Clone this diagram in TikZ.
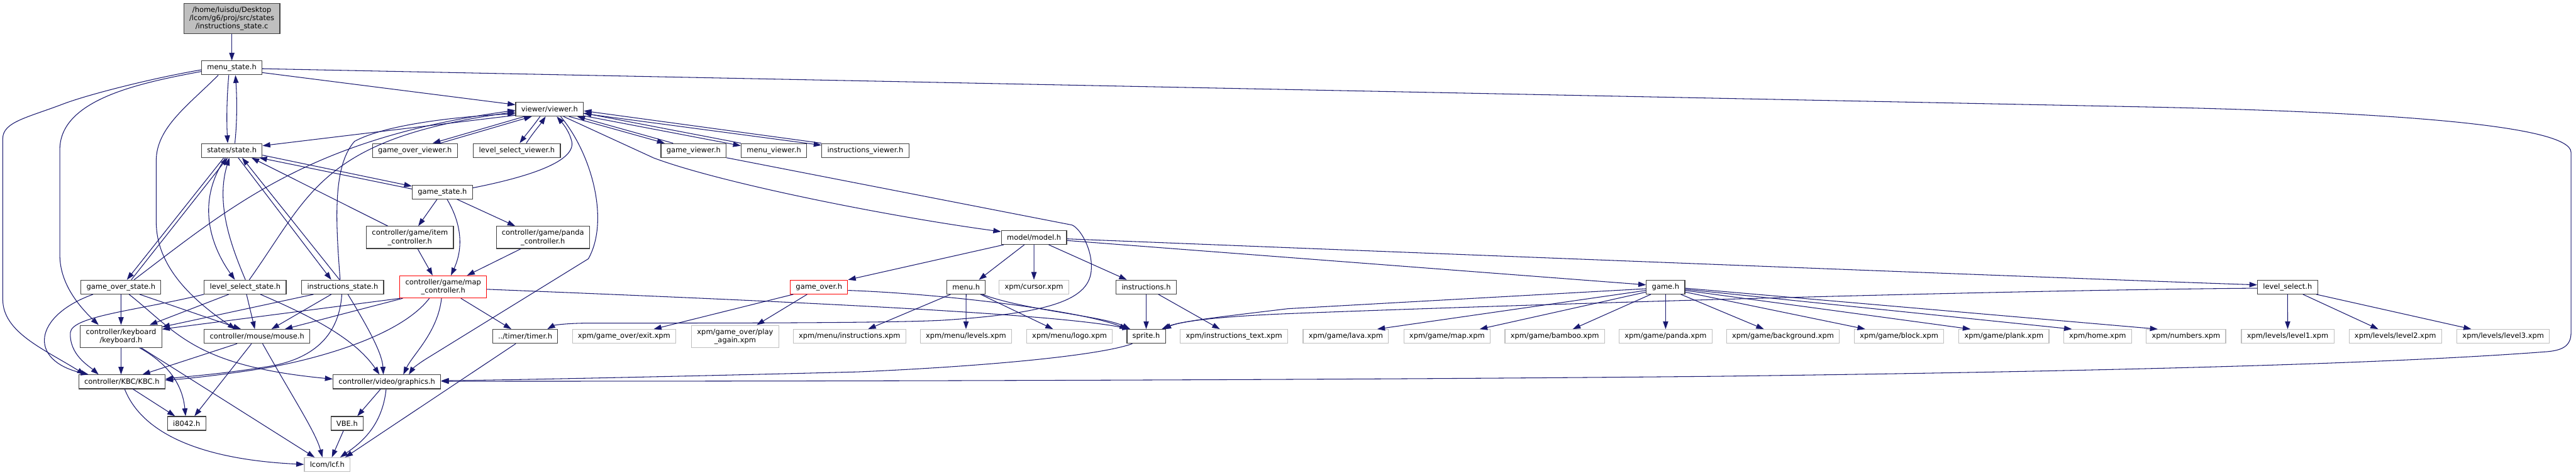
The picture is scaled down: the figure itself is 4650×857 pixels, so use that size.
\documentclass[tikz,border=0pt]{standalone}
\usepackage{fontspec}
\setmainfont{DejaVu Sans}
\usetikzlibrary{arrows.meta}
\definecolor{edgec}{HTML}{191970}
\definecolor{boxc}{HTML}{404040}
\definecolor{grayc}{HTML}{BFBFBF}
\definecolor{redc}{HTML}{FF0000}
\definecolor{rootc}{HTML}{BFBFBF}
\tikzset{
  box/.style={draw=boxc, line width=1.3pt, fill=white, inner xsep=10pt, inner ysep=2pt,
    minimum height=25pt, align=center, font=\fontsize{13}{15}\selectfont, text=black},
  gbox/.style={box, draw=grayc},
  rbox/.style={box, draw=redc},
  two/.style={minimum height=40pt},
  e/.style={draw=edgec, line width=1.2pt, -{Triangle[length=14pt,width=9.5pt]}}
}
\begin{document}
\begin{tikzpicture}[x=1pt,y=-1pt]
\fill[white] (0,0) rectangle (4650,857);
\useasboundingbox (0,0) rectangle (4650,857);
% ---------------- nodes ----------------
\node[box, fill=rootc, minimum height=55pt] (root) at (418.5,33.5) {/home/luisdu/Desktop\\/lcom/g6/proj/src/states\\/instructions\_state.c};
\node[box] (ms) at (418.5,122.5) {menu\_state.h};
\node[box] (st) at (418.5,271.5) {states/state.h};
\node[box] (vw) at (992,197) {viewer/viewer.h};
\node[box] (gov) at (749,271.5) {game\_over\_viewer.h};
\node[box] (lsv) at (933,271.5) {level\_select\_viewer.h};
\node[box] (gv) at (1252,271.5) {game\_viewer.h};
\node[box] (mv) at (1397,271.5) {menu\_viewer.h};
\node[box] (iv) at (1562,271.5) {instructions\_viewer.h};
\node[box] (gs) at (798.5,346.5) {game\_state.h};
\node[box, two] (ic) at (740,428.5) {controller/game/item\\\_controller.h};
\node[box, two] (pc) at (980,428.5) {controller/game/panda\\\_controller.h};
\node[rbox, two] (mc) at (800,517.7) {controller/game/map\\\_controller.h};
\node[box] (gos) at (218.4,518) {game\_over\_state.h};
\node[box] (lss) at (442.6,518) {level\_select\_state.h};
\node[box] (ins) at (618.6,518) {instructions\_state.h};
\node[box, two] (kb) at (218.5,607) {controller/keyboard\\/keyboard.h};
\node[box] (mo) at (464,607) {controller/mouse/mouse.h};
\node[box] (kbc) at (220,689) {controller/KBC/KBC.h};
\node[box] (gr) at (698.4,689) {controller/video/graphics.h};
\node[box] (i8) at (337,764) {i8042.h};
\node[box] (vbe) at (626.5,764) {VBE.h};
\node[gbox] (lcf) at (590.7,838.4) {lcom/lcf.h};
\node[box] (tm) at (948,607) {../timer/timer.h};
\node[gbox] (ex) at (1126.5,607) {xpm/game\_over/exit.xpm};
\node[gbox, two] (pa) at (1327,607) {xpm/game\_over/play\\\_again.xpm};
\node[rbox] (go) at (1478.4,518) {game\_over.h};
\node[gbox] (mi) at (1533.5,607) {xpm/menu/instructions.xpm};
\node[box] (md) at (1866.5,428.5) {model/model.h};
\node[box] (mn) at (1744,518) {menu.h};
\node[gbox] (cu) at (1866.4,518) {xpm/cursor.xpm};
\node[box] (ih) at (2069,518) {instructions.h};
\node[gbox] (lv) at (1743.7,607) {xpm/menu/levels.xpm};
\node[gbox] (lo) at (1930.6,607) {xpm/menu/logo.xpm};
\node[box] (sp) at (2069,607) {sprite.h};
\node[gbox] (it) at (2227.6,607) {xpm/instructions\_text.xpm};
\node[box] (gm) at (3006.6,518) {game.h};
\node[gbox] (la) at (2429.3,607) {xpm/game/lava.xpm};
\node[gbox] (mp) at (2612,607) {xpm/game/map.xpm};
\node[gbox] (ba) at (2806.5,607) {xpm/game/bamboo.xpm};
\node[gbox] (pn) at (3006.6,607) {xpm/game/panda.xpm};
\node[gbox] (bg) at (3218.4,607) {xpm/game/background.xpm};
\node[gbox] (bl) at (3428,607) {xpm/game/block.xpm};
\node[gbox] (pl) at (3617.3,607) {xpm/game/plank.xpm};
\node[gbox] (ho) at (3786.3,607) {xpm/home.xpm};
\node[gbox] (nu) at (3946,607) {xpm/numbers.xpm};
\node[box] (ls) at (4129.3,518) {level\_select.h};
\node[gbox] (l1) at (4129.5,607) {xpm/levels/level1.xpm};
\node[gbox] (l2) at (4323.8,607) {xpm/levels/level2.xpm};
\node[gbox] (l3) at (4518.5,607) {xpm/levels/level3.xpm};
% ---------------- edges ----------------
\draw[e] (root) -- (ms);
\draw[e] (ms.south -| 413,0) .. controls (409,180) and (409,220) .. (st.north -| 411,0);
\draw[e] (st.north -| 424,0) .. controls (428,220) and (428,180) .. (ms.south -| 425,0);
\draw[e] (ms.east |- 0,131) -- (vw.west |- 0,189);
\draw[e] (ms.east |- 0,124) -- (3875,193) .. controls (4300,202) and (4641,225) .. (4641,275) -- (4641,600)
   .. controls (4641,625) and (4625,633) .. (4592,635) .. controls (4300,657) and (3800,670) .. (3100,679)
   .. controls (2400,686) and (1500,688) .. (gr.east |- 0,688);
\draw[e] (ms.west |- 0,126) .. controls (280,140) and (160,170) .. (113,188) .. controls (50,212) and (5,220) .. (5,250)
   -- (5,540) .. controls (5,600) and (80,630) .. (kbc.north -| 153,0);
\draw[e] (ms.west |- 0,129) .. controls (250,150) and (108,180) .. (108,270) -- (108,460)
   .. controls (108,510) and (140,550) .. (kb.north -| 178,0);
\draw[e] (ms.south -| 394,0) .. controls (340,190) and (282,230) .. (282,290) -- (282,400)
   .. controls (282,470) and (330,530) .. (mo.north -| 425,0);
% state.h cycles
\draw[e] (st.south -| 404,0) -- (gos.north -| 229,0);
\draw[e] (gos.north -| 237,0) -- (st.south -| 411,0);
\draw[e] (st.south -| 407,0) .. controls (350,370) and (385,450) .. (lss.north -| 424,0);
\draw[e] (lss.north -| 443,0) .. controls (420,450) and (388,370) .. (st.south -| 414,0);
\draw[e] (st.south -| 430,0) -- (ins.north -| 598,0);
\draw[e] (ins.north -| 613,0) -- (st.south -| 437,0);
\draw[e] (st.east |- 0,280) -- (gs.west |- 0,336);
\draw[e] (gs.west |- 0,341) -- (st.south -| 468,0);
\draw[e] (gs.east |- 0,339) .. controls (960,318) and (1040,290) .. (1032,255) .. controls (1027,235) and (1015,222) .. (vw.south -| 1005,0);
\draw[e] (ic.north -| 700,0) -- (st.south -| 454,0);
\draw[e] (gs.south -| 789,0) -- (ic.north -| 755,0);
\draw[e] (gs.south -| 825,0) -- (pc.north -| 930,0);
\draw[e] (gs.south -| 807,0) .. controls (828,395) and (840,440) .. (mc.north -| 814,0);
\draw[e] (ic.south -| 754,0) -- (mc.north -| 781,0);
\draw[e] (pc.south -| 940,0) -- (mc.north -| 843,0);
% viewer cycles
\draw[e] (vw.south -| 947,0) -- (gov.north -| 781,0);
\draw[e] (gov.north -| 795,0) -- (vw.south -| 960,0);
\draw[e] (vw.south -| 975,0) .. controls (962,228) and (948,245) .. (lsv.north -| 938,0);
\draw[e] (lsv.north -| 950,0) .. controls (962,240) and (975,225) .. (vw.south -| 985,0);
\draw[e] (vw.south -| 1027,0) -- (gv.north -| 1200,0);
\draw[e] (gv.north -| 1215,0) -- (vw.south -| 1042,0);
\draw[e] (vw.east |- 0,209) -- (mv.west |- 0,263);
\draw[e] (mv.north west) -- (vw.east |- 0,204);
\draw[e] (vw.east |- 0,205) -- (iv.west |- 0,262);
\draw[e] (iv.north west) -- (vw.east |- 0,200);
\draw[e] (vw.west |- 0,208) -- (st.east |- 0,263);
\draw[e] (gos.north -| 242,0) .. controls (420,370) and (560,250) .. (vw.west |- 0,199);
\draw[e] (lss.north -| 450,0) .. controls (560,350) and (580,250) .. (vw.west |- 0,202);
\draw[e] (ins.north -| 614,0) .. controls (606,400) and (600,300) .. (640,255) .. controls (690,228) and (800,212) .. (vw.west |- 0,205);
% state headers to controllers
\draw[e] (gos.south) -- (kb.north);
\draw[e] (gos.south -| 168,0) .. controls (60,570) and (50,650) .. (kbc.north -| 160,0);
\draw[e] (gos.south -| 252,0) -- (mo.north -| 435,0);
\draw[e] (gos.south -| 233,0) .. controls (320,600) and (350,660) .. (gr.west |- 0,684);
\draw[e] (lss.south -| 413,0) -- (kb.north -| 270,0);
\draw[e] (lss.south west) .. controls (250,560) and (130,570) .. (127,600) .. controls (125,640) and (160,660) .. (kbc.north -| 178,0);
\draw[e] (lss.south -| 445,0) -- (mo.north -| 460,0);
\draw[e] (lss.south -| 470,0) .. controls (560,570) and (640,610) .. (gr.north -| 685,0);
\draw[e] (ins.south -| 566,0) -- (kb.east |- 0,590);
\draw[e] (ins.south -| 598,0) -- (mo.north -| 490,0);
\draw[e] (ins.south -| 628,0) .. controls (670,600) and (690,640) .. (gr.north -| 692,0);
\draw[e] (ins.south -| 617,0) .. controls (612,610) and (560,650) .. (480,662) .. controls (400,675) and (330,680) .. (kbc.east |- 0,684);
\draw[e] (mc.south -| 722,0) -- (kb.east |- 0,594);
\draw[e] (mc.south -| 727,0) -- (mo.north -| 514,0);
\draw[e] (mc.south -| 775,0) .. controls (720,610) and (560,650) .. (480,664) .. controls (400,677) and (330,684) .. (kbc.east |- 0,686);
\draw[e] (mc.south -| 797,0) .. controls (790,600) and (745,640) .. (gr.north -| 728,0);
\draw[e] (vw.south -| 1012,0) .. controls (1070,280) and (1100,400) .. (1062,467) -- (775,644) .. controls (755,656) and (745,665) .. (gr.north -| 738,0);
\draw[e] (mc.south -| 832,0) -- (tm.north -| 923,0);
\draw[e] (mc.east |- 0,522) .. controls (1400,543) and (1900,565) .. (sp.north -| 2040,0);
% low level
\draw[e] (kb.south) -- (kbc.north -| 218.5,0);
\draw[e] (kb.south -| 252,0) .. controls (310,660) and (330,700) .. (i8.north -| 335,0);
\draw[e] (kb.south -| 255,0) -- (lcf.north -| 568,0);
\draw[e] (mo.south -| 428,0) -- (kbc.north -| 257,0);
\draw[e] (mo.south -| 454,0) -- (i8.north -| 351,0);
\draw[e] (mo.south -| 474,0) .. controls (530,720) and (570,780) .. (lcf.north -| 582,0);
\draw[e] (kbc.south -| 240,0) -- (i8.north -| 316,0);
\draw[e] (kbc.south -| 225,0) .. controls (260,790) and (380,830) .. (lcf.west |- 0,838);
\draw[e] (gr.south -| 687,0) -- (vbe.north -| 645,0);
\draw[e] (gr.south -| 697,0) .. controls (690,770) and (650,800) .. (lcf.north -| 614,0);
\draw[e] (vbe.south -| 620,0) -- (lcf.north -| 599,0);
\draw[e] (tm.south -| 931,0) -- (lcf.north -| 623,0);
% model side
\draw[e] (vw.south -| 1017,0) -- (1180,285) .. controls (1300,330) and (1600,390) .. (md.west |- 0,418);
\draw[e] (gv.south east) -- (1935,406) .. controls (1950,412) and (1972,450) .. (1970,485) .. controls (1968,540) and (1900,565) .. (1700,578)
   .. controls (1600,583) and (1300,583) .. (1070,583) .. controls (1020,583) and (1000,587) .. (tm.north -| 988,0);
\draw[e] (md.south -| 1812,0) -- (go.north east);
\draw[e] (md.south -| 1849,0) -- (mn.north -| 1767,0);
\draw[e] (md.south) -- (cu.north);
\draw[e] (md.south -| 1893,0) -- (ih.north -| 2034,0);
\draw[e] (md.east |- 0,434) -- (gm.west |- 0,514);
\draw[e] (md.east |- 0,431) .. controls (2600,458) and (3800,505) .. (ls.west |- 0,514);
\draw[e] (go.south -| 1432,0) -- (ex.north -| 1180,0);
\draw[e] (go.south -| 1457,0) -- (pa.north -| 1366,0);
\draw[e] (go.east |- 0,524) .. controls (1700,530) and (1950,560) .. (sp.north -| 2035,0);
\draw[e] (mn.south -| 1716,0) -- (mi.north -| 1567,0);
\draw[e] (mn.south) -- (lv.north);
\draw[e] (mn.south -| 1770,0) -- (lo.north -| 1901,0);
\draw[e] (mn.south -| 1773,0) .. controls (1850,560) and (1990,570) .. (sp.north -| 2040,0);
\draw[e] (ih.south) -- (sp.north);
\draw[e] (ih.south -| 2091,0) -- (it.north -| 2202,0);
\draw[e] (gm.west |- 0,521) -- (2325,557) .. controls (2200,572) and (2130,580) .. (sp.north -| 2100,0);
\draw[e] (ls.west |- 0,520) .. controls (3500,525) and (2600,555) .. (2325,566) .. controls (2200,571) and (2130,580) .. (sp.north -| 2097,0);
\draw[e] (gm.west |- 0,524) -- (la.north -| 2486,0);
\draw[e] (gm.west |- 0,527) -- (mp.north -| 2671,0);
\draw[e] (gm.south -| 2980,0) -- (ba.north -| 2839,0);
\draw[e] (gm.south) -- (pn.north);
\draw[e] (gm.south -| 3034,0) -- (bg.north -| 3184,0);
\draw[e] (gm.east |- 0,527) -- (bl.north -| 3367,0);
\draw[e] (gm.east |- 0,524) -- (pl.north -| 3557,0);
\draw[e] (gm.east |- 0,522) -- (ho.north -| 3740,0);
\draw[e] (gm.east |- 0,520) -- (nu.north -| 3895,0);
\draw[e] (ls.south) -- (l1.north);
\draw[e] (ls.south -| 4157,0) -- (l2.north -| 4293,0);
\draw[e] (ls.south -| 4181,0) -- (l3.north -| 4461,0);
\draw[e] (sp.south -| 2044,0) .. controls (1990,640) and (1800,660) .. (1550,671) .. controls (1200,680) and (900,686) .. (gr.east |- 0,687);
\end{tikzpicture}
\end{document}
